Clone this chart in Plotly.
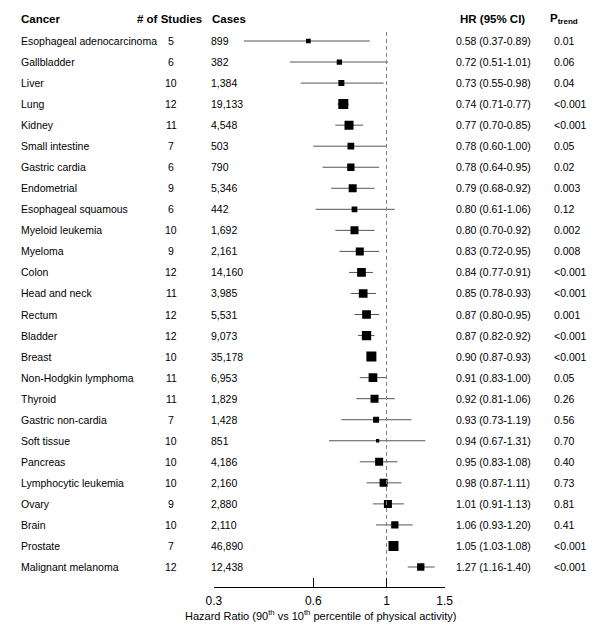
import plotly.graph_objects as go

# forest plot: HR for 90th vs 10th percentile of physical activity
cancers = ["Esophageal adenocarcinoma", "Gallbladder", "Liver", "Lung", "Kidney",
           "Small intestine", "Gastric cardia", "Endometrial", "Esophageal squamous",
           "Myeloid leukemia", "Myeloma", "Colon", "Head and neck", "Rectum", "Bladder",
           "Breast", "Non-Hodgkin lymphoma", "Thyroid", "Gastric non-cardia", "Soft tissue",
           "Pancreas", "Lymphocytic leukemia", "Ovary", "Brain", "Prostate", "Malignant melanoma"]
n_studies = [5, 6, 10, 12, 11, 7, 6, 9, 6, 10, 9, 12, 11, 12, 12, 10, 11, 11, 7, 10, 10, 10, 9, 10, 7, 12]
cases = [899, 382, 1384, 19133, 4548, 503, 790, 5346, 442, 1692, 2161, 14160, 3985, 5531,
         9073, 35178, 6953, 1829, 1428, 851, 4186, 2160, 2880, 2110, 46890, 12438]
hr = [0.58, 0.72, 0.73, 0.74, 0.77, 0.78, 0.78, 0.79, 0.80, 0.80, 0.83, 0.84, 0.85, 0.87,
      0.87, 0.90, 0.91, 0.92, 0.93, 0.94, 0.95, 0.98, 1.01, 1.06, 1.05, 1.27]
ci_low = [0.37, 0.51, 0.55, 0.71, 0.70, 0.60, 0.64, 0.68, 0.61, 0.70, 0.72, 0.77, 0.78, 0.80,
          0.82, 0.87, 0.83, 0.81, 0.73, 0.67, 0.83, 0.87, 0.91, 0.93, 1.03, 1.16]
ci_high = [0.89, 1.01, 0.98, 0.77, 0.85, 1.00, 0.95, 0.92, 1.06, 0.92, 0.95, 0.91, 0.93, 0.95,
           0.92, 0.93, 1.00, 1.06, 1.19, 1.31, 1.08, 1.11, 1.13, 1.20, 1.08, 1.40]
p_trend = ["0.01", "0.06", "0.04", "<0.001", "<0.001", "0.05", "0.02", "0.003", "0.12", "0.002",
           "0.008", "<0.001", "<0.001", "0.001", "<0.001", "<0.001", "0.05", "0.26", "0.56", "0.70",
           "0.40", "0.73", "0.81", "0.41", "<0.001", "<0.001"]
# relative study weight (box size)
weight = [0.47, 0.53, 0.60, 1.00, 0.90, 0.67, 0.73, 0.80, 0.57, 0.80, 0.80, 0.87, 0.87, 0.87,
          0.93, 1.00, 0.87, 0.80, 0.60, 0.33, 0.80, 0.80, 0.80, 0.73, 1.00, 0.73]
x_ticks = [0.3, 0.6, 1, 1.5]

# page has an 8px body margin, so the figure is 16px smaller than the window
PAD = 8
W, H = 608 - 2 * PAD, 635 - 2 * PAD
FONT = "Liberation Sans, Arial, sans-serif"
rows = list(range(len(cancers)))

fig = go.Figure()

# confidence interval lines
xs, ys = [], []
for i in rows:
    xs += [ci_low[i], ci_high[i], None]
    ys += [i, i, None]
fig.add_trace(go.Scatter(x=xs, y=ys, mode="lines", line=dict(color="#555555", width=1),
                         hoverinfo="skip", showlegend=False))

# point estimates
fig.add_trace(go.Scatter(x=hr, y=rows, mode="markers",
                         marker=dict(symbol="square", color="black", opacity=1,
                                     size=[10 * w for w in weight], line=dict(width=0)),
                         customdata=cancers,
                         hovertemplate="%{customdata}<br>HR: %{x}<extra></extra>",
                         showlegend=False))

# reference line at HR = 1
fig.add_shape(type="line", xref="x", yref="y", x0=1, x1=1, y0=-0.43, y1=len(cancers) - 0.47,
              line=dict(color="#808080", width=1, dash="4px,3px"))


def px(v):
    # window pixel -> paper fraction
    return (v - PAD) / W


ann = []
hdr = dict(size=11.5, color="black", family=FONT)
header_y = -1.05
ann.append(dict(x=px(11), y=header_y, text="<b>Cancer</b>", xanchor="left", font=hdr))
ann.append(dict(x=px(166), y=header_y, text="<b># of Studies</b>", xanchor="center", font=hdr))
ann.append(dict(x=px(208), y=header_y, text="<b>Cases</b>", xanchor="left", font=hdr))
ann.append(dict(x=px(463), y=header_y, text="<b>HR (95% CI)</b>", xanchor="left", font=hdr))
ann.append(dict(x=px(556), y=header_y, text="<b>P<sub>trend</sub></b>", xanchor="left", font=hdr))

body = dict(size=10.5, color="black", family=FONT)
for i in rows:
    ann.append(dict(x=px(11), y=i, text=cancers[i], xanchor="left", font=body))
    ann.append(dict(x=px(168), y=i, text=str(n_studies[i]), xanchor="center", font=body))
    ann.append(dict(x=px(207), y=i, text=f"{cases[i]:,}", xanchor="left", font=body))
    ann.append(dict(x=px(459), y=i, text=f"{hr[i]:.2f} ({ci_low[i]:.2f}-{ci_high[i]:.2f})",
                    xanchor="left", font=body))
    ann.append(dict(x=px(560), y=i, text=p_trend[i], xanchor="left", font=body))

for a in ann:
    a.update(xref="paper", yref="y", yanchor="middle", showarrow=False)

ann.append(dict(x=px(180), y=1 - (615 - PAD) / H, xref="paper", yref="paper", showarrow=False,
                xanchor="left", yanchor="middle",
                text="Hazard Ratio (90<sup>th</sup> vs 10<sup>th</sup> percentile of physical activity)",
                font=dict(size=11, color="black", family=FONT)))

row_gap = 21.04
first_row = 41 - PAD
axis_px = 586.7 - PAD
fig.update_layout(
    width=W, height=H, autosize=False,
    margin=dict(l=0, r=0, t=0, b=0),
    paper_bgcolor="white", plot_bgcolor="white",
    annotations=ann,
    xaxis=dict(type="log", range=[-0.52288, 0.17609],
               domain=[px(211.7), px(449.3)],
               tickvals=x_ticks, ticktext=[str(t) for t in x_ticks],
               ticks="inside", ticklen=9, tickwidth=1, tickcolor="black",
               showline=True, linecolor="black", linewidth=1,
               showgrid=False, zeroline=False,
               tickfont=dict(size=12, color="black", family=FONT),
               ticklabelstandoff=3),
    yaxis=dict(range=[(axis_px - first_row) / row_gap, -first_row / row_gap],
               domain=[1 - axis_px / H, 1],
               visible=False, showgrid=False, zeroline=False),
)

fig.write_html("out.html")
